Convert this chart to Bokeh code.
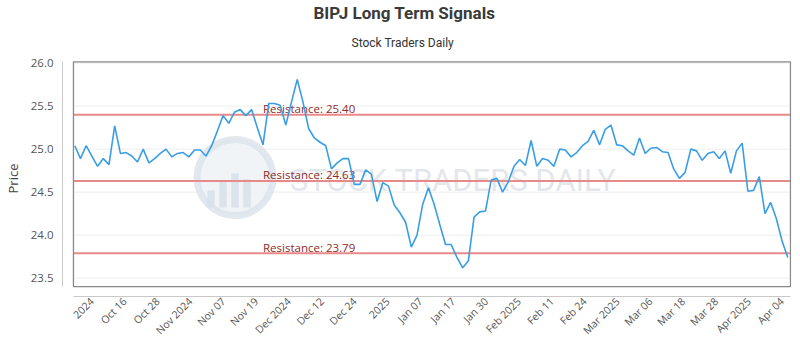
import math
from bokeh.plotting import figure
from bokeh.models import Range1d, FixedTicker, Title, NumeralTickFormatter
from bokeh.embed import file_html
from bokeh.resources import INLINE
from bokeh.core.properties import value

# ---- data ----
prices = [
    25.04, 24.89, 25.04, 24.92, 24.80, 24.89, 24.82, 25.27, 24.95, 24.96,
    24.92, 24.85, 25.00, 24.84, 24.89, 24.95, 25.00, 24.91, 24.95, 24.96,
    24.91, 24.99, 24.99, 24.92, 25.04, 25.21, 25.39, 25.30, 25.43, 25.46,
    25.39, 25.46, 25.25, 25.05, 25.53, 25.53, 25.51, 25.28, 25.55, 25.81,
    25.55, 25.24, 25.13, 25.08, 25.04, 24.77, 24.84, 24.89, 24.89, 24.59,
    24.59, 24.76, 24.71, 24.39, 24.61, 24.57, 24.35, 24.26, 24.15, 23.86,
    24.00, 24.36, 24.55, 24.36, 24.12, 23.89, 23.89, 23.74, 23.62, 23.70,
    24.21, 24.27, 24.28, 24.64, 24.66, 24.50, 24.62, 24.80, 24.88, 24.81,
    25.10, 24.80, 24.89, 24.87, 24.80, 25.00, 24.99, 24.91, 24.96, 25.04,
    25.09, 25.22, 25.05, 25.23, 25.28, 25.05, 25.04, 24.98, 24.93, 25.13,
    24.95, 25.01, 25.02, 24.97, 24.96, 24.77, 24.66, 24.73, 25.00, 24.98,
    24.87, 24.95, 24.97, 24.89, 24.98, 24.72, 24.98, 25.07, 24.51, 24.52,
    24.68, 24.25, 24.38, 24.19, 23.93, 23.74,
]
x_labels = [
    "2024", "Oct 16", "Oct 28", "Nov 2024", "Nov 07", "Nov 19", "Dec 2024",
    "Dec 12", "Dec 24", "2025", "Jan 07", "Jan 17", "Jan 30", "Feb 2025",
    "Feb 11", "Feb 24", "Mar 2025", "Mar 06", "Mar 18", "Mar 28", "Apr 2025",
    "Apr 04",
]
resistance = [25.40, 24.63, 23.79]
y_ticks = [23.5, 24.0, 24.5, 25.0, 25.5, 26.0]

idx = list(range(len(prices)))

# ---- layout constants ----
X0, X1 = -2.15, 125.65        # frame x range (axis sits offset to the left)
Y0, Y1 = 23.286, 26.031       # frame y range (axis sits offset below)
BL, BR = -0.23, 125.47        # plot box
BB, BT = 23.401, 26.016

FONT = "Open Sans"

p = figure(width=800, height=350, output_backend="svg", toolbar_location=None,
           x_range=Range1d(X0, X1), y_range=Range1d(Y0, Y1),
           min_border_left=60, min_border_right=9, min_border_top=58,
           min_border_bottom=54, title=None)
p.outline_line_color = None
p.background_fill_color = "white"
p.border_fill_color = "white"
p.xgrid.visible = False
p.ygrid.visible = False

# grid lines inside the box
p.segment(x0=[BL] * len(y_ticks), x1=[BR] * len(y_ticks), y0=y_ticks, y1=y_ticks,
          line_color="#eeeeee", line_width=1)

# ---- watermark ----
wx = (233 - 72.3) / 5.72
wy = 26 - (176 - 60.7) / 86.7
p.scatter(x=[wx], y=[wy], size=76, fill_color="#edf1f5", line_color="#dbe2ea",
          line_width=7, fill_alpha=0.8, line_alpha=0.8)
bx = [wx - 4.2, wx - 2.1, wx, wx + 2.1]
btop = [wy - 0.15, wy - 0.05, wy + 0.05, wy - 0.02]
p.vbar(x=bx, width=1.3, bottom=wy - 0.35, top=btop, fill_color="#d6dee7",
       line_color=None, fill_alpha=0.8)
p.text(x=[(288 - 72.3) / 5.72], y=[26 - (179 - 60.7) / 86.7],
       text=["STOCK TRADERS DAILY"], text_font_size="31px",
       text_font=value("Roboto"),
       text_color="#dfe4ea", text_baseline="middle", text_align="left", text_alpha=0.9)

# ---- resistance lines ----
p.segment(x0=[BL] * 3, x1=[BR] * 3, y0=resistance, y1=resistance,
          line_color="#e8898a", line_width=2)
p.text(x=[33] * 3, y=resistance, text=[f"Resistance: {r:.2f}" for r in resistance],
       text_font=value(FONT), text_font_size="11.5px", text_color="#8b2c2c",
       text_baseline="alphabetic", text_align="left", y_offset=-6)

# ---- price line ----
p.line(idx, prices, line_color="#3a9ee4", line_width=1.6)

# ---- box ----
p.quad(left=[BL], right=[BR], bottom=[BB], top=[BT], fill_color=None,
       line_color="#888888", line_width=1.3)

# ---- axes ----
tick_pos = [round(3.0 + 5.76 * k, 3) for k in range(len(x_labels))]
p.xaxis.ticker = FixedTicker(ticks=tick_pos)
p.xaxis.major_label_overrides = {t: l for t, l in zip(tick_pos, x_labels)}
p.xaxis.major_label_orientation = math.pi / 4
p.xaxis.bounds = (BL, BR)
p.xaxis.axis_line_color = "#c8c8c8"
p.xaxis.major_tick_line_color = None
p.xaxis.minor_tick_line_color = None
p.xaxis.major_tick_out = 0
p.xaxis.major_tick_in = 0
p.xaxis.minor_tick_out = 0
p.xaxis.minor_tick_in = 0
p.xaxis.major_label_standoff = 3
p.xaxis.major_label_text_font = FONT
p.xaxis.major_label_text_font_size = "10.5px"
p.xaxis.major_label_text_color = "#555555"

p.yaxis.ticker = FixedTicker(ticks=y_ticks)
p.yaxis.formatter = NumeralTickFormatter(format="0.0")
p.yaxis.bounds = (BB, BT)
p.yaxis.axis_line_color = "#c8c8c8"
p.yaxis.major_tick_line_color = None
p.yaxis.minor_tick_line_color = None
p.yaxis.major_tick_out = 0
p.yaxis.major_tick_in = 0
p.yaxis.minor_tick_out = 0
p.yaxis.minor_tick_in = 0
p.yaxis.major_label_standoff = 9
p.yaxis.major_label_text_font = FONT
p.yaxis.major_label_text_font_size = "11.5px"
p.yaxis.major_label_text_color = "#555555"
p.yaxis.axis_label = "Price"
p.yaxis.axis_label_text_font = FONT
p.yaxis.axis_label_text_font_style = "normal"
p.yaxis.axis_label_text_font_size = "13px"
p.yaxis.axis_label_text_color = "#444444"
p.yaxis.axis_label_standoff = 6

# ---- titles ----
p.add_layout(Title(text="Stock Traders Daily", align="left", offset=289,
                   standoff=22,
                   text_font="Roboto", text_font_size="12px",
                   text_font_style="normal", text_color="#333333"), "above")
p.add_layout(Title(text="BIPJ Long Term Signals", align="left", offset=251,
                   standoff=0,
                   text_font="Roboto", text_font_size="17px",
                   text_font_style="bold", text_color="#3a3a3a"), "above")

open("out.html", "w").write(file_html(p, INLINE))
